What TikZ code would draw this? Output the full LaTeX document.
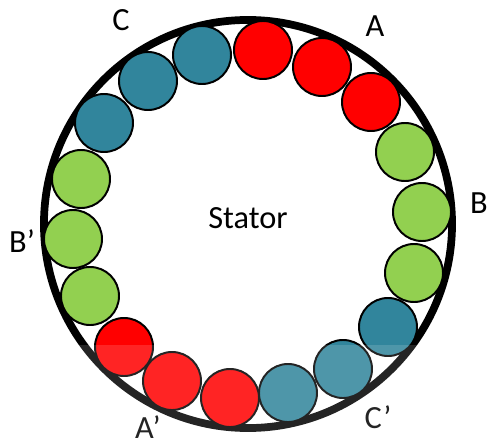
\documentclass[tikz,border=0pt]{standalone}
\usepackage{fontspec}
\setmainfont{Carlito}
\definecolor{coilred}{HTML}{FF0000}
\definecolor{coilgreen}{HTML}{92D050}
\definecolor{coilteal}{HTML}{31859C}
\begin{document}
\begin{tikzpicture}[x=0.025cm, y=-0.025cm,
  coil/.style={circle, draw, line width=1.4pt, inner sep=0pt, minimum size=1.45cm, fill=#1},
  phase/.style={font=\fontsize{23}{26}\selectfont, inner sep=0pt}
]
  \useasboundingbox (0,0) rectangle (488,441);
  \node[circle, draw, line width=5.5pt, inner sep=0pt, minimum size=10.2cm] (ring) at (248,224) {};
  % phase A
  \node[coil=coilred] (a1) at (263,50) {};
  \node[coil=coilred] (a2) at (322,67) {};
  \node[coil=coilred] (a3) at (371,102) {};
  % phase B
  \node[coil=coilgreen] (b1) at (405,152) {};
  \node[coil=coilgreen] (b2) at (422,212) {};
  \node[coil=coilgreen] (b3) at (414,273) {};
  % phase C'
  \node[coil=coilteal] (cp1) at (388,327) {};
  \node[coil=coilteal] (cp2) at (343,369) {};
  \node[coil=coilteal] (cp3) at (288,393) {};
  % phase A'
  \node[coil=coilred] (ap1) at (230,398) {};
  \node[coil=coilred] (ap2) at (172,381) {};
  \node[coil=coilred] (ap3) at (124,347) {};
  % phase B'
  \node[coil=coilgreen] (bp1) at (90,296) {};
  \node[coil=coilgreen] (bp2) at (73,239) {};
  \node[coil=coilgreen] (bp3) at (81,179) {};
  % phase C
  \node[coil=coilteal] (c1) at (104,123) {};
  \node[coil=coilteal] (c2) at (148,81) {};
  \node[coil=coilteal] (c3) at (202,55) {};
  % washed out lower part
  \fill[white, opacity=.14] (0,345) rectangle (488,441);
  % labels
  \node[phase] (stator) at (248,218) {Stator};
  \node[phase] (la) at (375,26) {A};
  \node[phase] (lb) at (479,203) {B};
  \node[phase] (lc) at (121,20) {C};
  \node[phase, black!86] (lcp) at (378,417) {C’};
  \node[phase, black!86] (lap) at (148,427) {A’};
  \node[phase] (lbp) at (22,241) {B’};
\end{tikzpicture}
\end{document}
